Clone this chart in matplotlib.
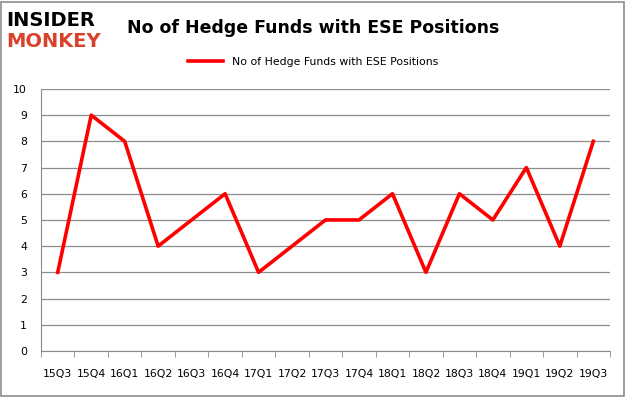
import matplotlib.pyplot as plt
import numpy as np

quarters = ['15Q3', '15Q4', '16Q1', '16Q2', '16Q3', '16Q4', '17Q1', '17Q2', '17Q3',
            '17Q4', '18Q1', '18Q2', '18Q3', '18Q4', '19Q1', '19Q2', '19Q3']
funds = [3, 9, 8, 4, 5, 6, 3, 4, 5, 5, 6, 3, 6, 5, 7, 4, 8]
series_name = 'No of Hedge Funds with ESE Positions'
title = 'No of Hedge Funds with ESE Positions'

fig = plt.figure(figsize=(6.26, 3.97), dpi=100)
ax = fig.add_axes([0.0655, 0.116, 0.909, 0.66])

x = np.arange(len(quarters))
ax.plot(x, funds, color='#ff0000', linewidth=2.6, label=series_name)

ax.set_xlim(-0.5, len(quarters) - 0.5)
ax.set_ylim(0, 10)
ax.set_yticks(range(0, 11))
ax.yaxis.grid(True, color='#8c8c8c', linewidth=0.9)
ax.set_axisbelow(True)

ax.set_xticks(x)
ax.set_xticklabels(quarters, fontsize=7.8)
ax.set_xticks(np.arange(-0.5, len(quarters)), minor=True)
ax.tick_params(axis='x', which='major', length=0, pad=13)
ax.tick_params(axis='x', which='minor', length=4, color='#8c8c8c')
ax.tick_params(axis='y', length=0, labelsize=7.8, pad=10)

for s in ['top', 'right']:
    ax.spines[s].set_visible(False)
for s in ['left', 'bottom']:
    ax.spines[s].set_color('#8c8c8c')

ax.legend(loc='center', bbox_to_anchor=(0.478, 1.103), frameon=False,
          fontsize=7.8, handlelength=3.2)

fig.text(0.5, 0.93, title, ha='center', va='center', fontsize=12.5, fontweight='bold')

# logo
fig.text(0.01, 0.948, 'INSIDER', fontsize=14, fontweight='heavy', color='black', va='center')
fig.text(0.01, 0.895, 'MONKEY', fontsize=14, fontweight='heavy', color='#d9412b', va='center')

border = plt.Rectangle((0.002, 0.003), 0.995, 0.993, transform=fig.transFigure,
                       fill=False, edgecolor='#8c8c8c', linewidth=1.2)
fig.patches.append(border)

fig.savefig('out.png', dpi=100)
